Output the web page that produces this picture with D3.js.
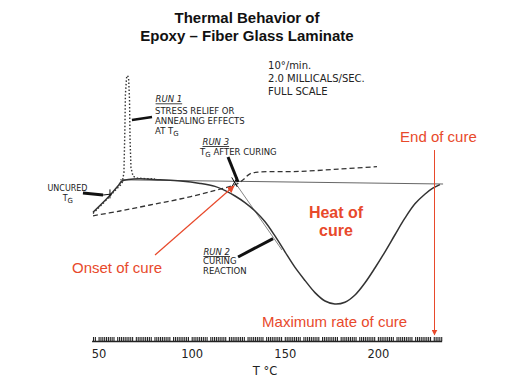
<!DOCTYPE html>
<html><head><meta charset="utf-8">
<script src="https://cdn.jsdelivr.net/npm/d3@7"></script>
<style>
html,body{margin:0;padding:0;background:#fff;}
svg{display:block;}
.hand{font-family:"DejaVu Sans",sans-serif;fill:#222;}
.red{font-family:"Liberation Sans",Arial,sans-serif;fill:#e8492b;}
</style></head>
<body>
<script>
// ---- data (temperature °C, heat flow mcal/s relative to baseline) ----
const run2Temp = [47,51,56,60.5,62.6,66,72,83,94,104.5,112.5,118,123.3,128.6,134,139.4,144.8,150.1,155.5,160.9,166.2,171.6,176.9,182.3,187.7,193,198.4,203.8,209.1,214.5,219.9,225.2,229.5,233.3];
const run2Flow = [-0.26,-0.2,-0.12,-0.04,0.0,0.012,0.018,0.01,0.0,-0.02,-0.045,-0.08,-0.125,-0.18,-0.25,-0.34,-0.46,-0.59,-0.72,-0.83,-0.93,-1.0,-1.025,-1.01,-0.95,-0.85,-0.725,-0.59,-0.45,-0.31,-0.19,-0.11,-0.06,-0.03];
const run1Temp = [47,53.4,58.8,62.6,63.6,64.1,64.4,65.0,65.5,66.1,66.6,66.9,67.4,68.5,70.6,74.9,80.3];
const run1Flow = [-0.27,-0.17,-0.08,-0.02,0.07,0.42,0.72,0.86,0.88,0.86,0.68,0.34,0.11,0.04,0.025,0.02,0.017];
const run3Temp = [47,61.5,77.6,93.7,109.8,124.3,127.6,131.3,136.7,158,180,199.5];
const run3Flow = [-0.29,-0.25,-0.2,-0.15,-0.09,-0.025,0.01,0.06,0.075,0.08,0.1,0.12];
const baselineTemp = [61.5,235];
const baselineFlow = [0.01,-0.025];
const tangentTemp = [122.7,148.5];
const tangentFlow = [0.0,-0.575];
const tickLabels = [50,100,150,200];
const rulerRange = [46.5,234.5];

// ---- scales ----
const W=514,H=382;
const x = d3.scaleLinear().domain([50,200]).range([98.6,377.9]);
const y = d3.scaleLinear().domain([0,1]).range([181,61]);

const svg = d3.select("body").append("svg").attr("width",W).attr("height",H);
svg.append("rect").attr("width",W).attr("height",H).attr("fill","#fff");

// title
const title = svg.append("text").attr("x",247).attr("text-anchor","middle")
  .style("font-family","'Liberation Sans',Arial,sans-serif").style("font-weight","bold")
  .style("font-size","15px").attr("fill","#111");
title.append("tspan").attr("x",247).attr("y",23).text("Thermal Behavior of");
title.append("tspan").attr("x",247).attr("y",41).text("Epoxy \u2013 Fiber Glass Laminate");

const line = d3.line().x(d=>x(d[0])).y(d=>y(d[1])).curve(d3.curveCatmullRom.alpha(0.5));
const zip = (a,b)=>a.map((t,i)=>[t,b[i]]);

// thin baseline and tangent
svg.append("path").datum(zip(baselineTemp,baselineFlow)).attr("d",d3.line().x(d=>x(d[0])).y(d=>y(d[1])))
  .attr("fill","none").attr("stroke","#555").attr("stroke-width",0.9);
svg.append("path").datum(zip(tangentTemp,tangentFlow)).attr("d",d3.line().x(d=>x(d[0])).y(d=>y(d[1])))
  .attr("fill","none").attr("stroke","#666").attr("stroke-width",0.8);

// run 3 dashed
svg.append("path").datum(zip(run3Temp,run3Flow)).attr("d",line)
  .attr("fill","none").attr("stroke","#333").attr("stroke-width",1.3).attr("stroke-dasharray","5,3");
// run 1 dotted
svg.append("path").datum(zip(run1Temp,run1Flow)).attr("d",d3.line().x(d=>x(d[0])).y(d=>y(d[1])).curve(d3.curveMonotoneY ? d3.curveLinear : d3.curveLinear))
  .attr("fill","none").attr("stroke","#333").attr("stroke-width",1.4).attr("stroke-dasharray","1.5,2");
// run 2 solid
svg.append("path").datum(zip(run2Temp,run2Flow)).attr("d",line)
  .attr("fill","none").attr("stroke","#333").attr("stroke-width",1.5);

// ---- annotations (anchored in data units) ----
const leaders = [
  {pts:[[41.6,-0.1],[52.4,-0.117]], w:3},
  {pts:[[52.4,-0.117],[57.2,-0.108]], w:1},
  {pts:[[56.1,-0.07],[56.1,-0.145]], w:1},
  {pts:[[67.9,0.508],[78.7,0.533]], w:2.5},
  {pts:[[119.5,0.2],[124.9,-0.008]], w:3},
  {pts:[[124.9,-0.633],[143.7,-0.48]], w:3},
  {pts:[[121.5,0.03],[124.5,-0.05]], w:1},
  {pts:[[121.5,-0.05],[124.5,0.03]], w:1}
];
leaders.forEach(l=>{
  svg.append("line").attr("x1",x(l.pts[0][0])).attr("y1",y(l.pts[0][1]))
    .attr("x2",x(l.pts[1][0])).attr("y2",y(l.pts[1][1]))
    .attr("stroke","#111").attr("stroke-width",l.w);
});

function hand(T,v,parts,opts={}){
  const t = svg.append("text").attr("class","hand").attr("x",x(T)).attr("y",y(v))
    .style("font-size",(opts.size||8.5)+"px").attr("text-anchor",opts.anchor||"start");
  if(opts.italic) t.style("font-style","italic").style("text-decoration","underline");
  parts.forEach(p=>{
    if(typeof p==="string") t.append("tspan").text(p);
    else t.append("tspan").attr("dy",p.dy).style("font-size",p.size+"px").text(p.t);
  });
  return t;
}
hand(141.0,0.933,["10°/min."],{size:10});
hand(141.0,0.825,["2.0 MILLICALS/SEC."],{size:10});
hand(141.0,0.717,["FULL SCALE"],{size:10});

hand(80.6,0.655,["RUN 1"],{italic:true});
hand(80.3,0.558,["STRESS RELIEF OR"]);
hand(80.3,0.475,["ANNEALING EFFECTS"]);
hand(80.3,0.39,["AT T",{t:"G",dy:2,size:7}]);

hand(105.8,0.3,["RUN 3"],{italic:true});
hand(104.5,0.217,["T",{t:"G",dy:2,size:7},{t:" AFTER CURING",dy:-2,size:8.5}]);

hand(106.3,-0.617,["RUN 2"],{italic:true});
hand(106.1,-0.692,["CURING"]);
hand(106.1,-0.775,["REACTION"]);

hand(33.3,-0.083,["UNCURED"],{anchor:"middle",size:8});
hand(33.5,-0.17,["T",{t:"G",dy:2,size:7}],{anchor:"middle",size:8});

// red annotations
const red = "#e8492b";
svg.append("defs").append("marker").attr("id","ah").attr("viewBox","0 0 10 10")
  .attr("refX",9).attr("refY",5).attr("markerWidth",6).attr("markerHeight",6)
  .attr("orient","auto").append("path").attr("d","M0,0L10,5L0,10z").attr("fill",red);
svg.append("line").attr("x1",x(80.3)).attr("y1",y(-0.617)).attr("x2",x(122.7)).attr("y2",y(-0.042))
  .attr("stroke",red).attr("stroke-width",1.2).attr("marker-end","url(#ah)");
svg.append("line").attr("x1",x(230.4)).attr("y1",y(0.258)).attr("x2",x(230.4)).attr("y2",y(-1.283))
  .attr("stroke",red).attr("stroke-width",1).attr("marker-end","url(#ah)");

svg.append("text").attr("class","red").attr("x",x(35.7)).attr("y",y(-0.767)).style("font-size","15px").text("Onset of cure");
svg.append("text").attr("class","red").attr("x",x(211.9)).attr("y",y(0.325)).style("font-size","15px").text("End of cure");
svg.append("text").attr("class","red").attr("x",x(137.8)).attr("y",y(-1.217)).style("font-size","15px").text("Maximum rate of cure");
svg.append("text").attr("class","red").attr("x",x(177.5)).attr("y",y(-0.308)).attr("text-anchor","middle")
  .style("font-size","16px").style("font-weight","bold").text("Heat of");
svg.append("text").attr("class","red").attr("x",x(177.5)).attr("y",y(-0.458)).attr("text-anchor","middle")
  .style("font-size","16px").style("font-weight","bold").text("cure");

// ---- ruler axis ----
const axisY = 341;
const g = svg.append("g").attr("transform",`translate(0,${axisY})`);
const fine = d3.range(Math.ceil(rulerRange[0]), Math.floor(rulerRange[1])+1, 1).filter(t=>((t%10)+10)%10!==9);
g.call(d3.axisBottom(x).tickValues(fine).tickSize(-4).tickFormat(""))
  .call(a=>a.select(".domain").remove())
  .call(a=>a.selectAll(".tick line").attr("stroke","#222").attr("stroke-width",1.1));
g.append("line").attr("x1",x(rulerRange[0])).attr("x2",x(rulerRange[1])).attr("y1",0.5).attr("y2",0.5)
  .attr("stroke","#222").attr("stroke-width",1.5);
const lab = svg.append("g").attr("transform",`translate(0,${axisY})`)
  .call(d3.axisBottom(x).tickValues(tickLabels).tickSize(0).tickPadding(9).tickFormat(d3.format("d")));
lab.select(".domain").remove();
lab.selectAll("text").attr("class","hand").style("font-size","11.5px").attr("fill","#222").style("font-family","'DejaVu Sans',sans-serif");
svg.append("text").attr("class","hand").attr("x",265).attr("y",375).attr("text-anchor","middle")
  .style("font-size","11.5px").text("T °C");
</script>
</body></html>
